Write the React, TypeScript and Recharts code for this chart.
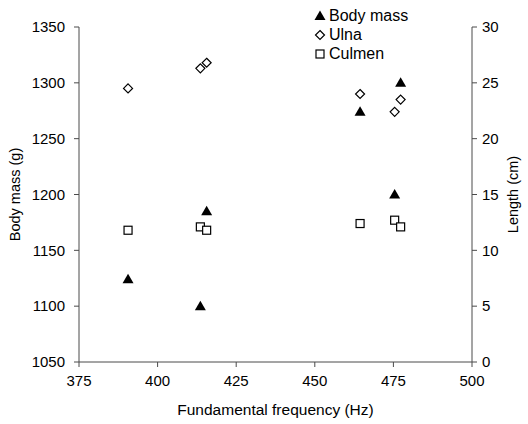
import { Legend, Scatter, ScatterChart, XAxis, YAxis } from 'recharts';

// frequency (Hz) per bird, shared by the three series
const freq = [390.6, 413.6, 415.6, 464.4, 475.4, 477.3];
const bodyMass = [1124, 1100, 1185, 1274, 1200, 1300];
const ulna = [24.5, 26.3, 26.8, 24.0, 22.4, 23.5];
const culmen = [11.8, 12.1, 11.8, 12.4, 12.7, 12.1];

const xTicks = [375, 400, 425, 450, 475, 500];
const massTicks = [1050, 1100, 1150, 1200, 1250, 1300, 1350];
const lengthTicks = [0, 5, 10, 15, 20, 25, 30];

const FONT = 'Liberation Sans, Arial, sans-serif';
const AXIS = '#4a4a4a';
const tick = { fill: '#000', fontSize: 15, fontFamily: FONT };

const massData = freq.map((f, i) => ({ f, v: bodyMass[i] }));
const ulnaData = freq.map((f, i) => ({ f, v: ulna[i] }));
const culmenData = freq.map((f, i) => ({ f, v: culmen[i] }));

type Pt = { cx?: number; cy?: number };

function Tri({ cx = 0, cy = 0 }: Pt) {
  return <path d={`M${cx},${cy - 5.5} L${cx + 5.5},${cy + 4} L${cx - 5.5},${cy + 4} Z`} fill="#000" />;
}

function Dia({ cx = 0, cy = 0 }: Pt) {
  return (
    <path
      d={`M${cx},${cy - 4.5} L${cx + 4.5},${cy} L${cx},${cy + 4.5} L${cx - 4.5},${cy} Z`}
      fill="#fff"
      stroke="#000"
      strokeWidth={1.2}
    />
  );
}

function Sq({ cx = 0, cy = 0 }: Pt) {
  return <rect x={cx - 4} y={cy - 4} width={8} height={8} fill="#fff" stroke="#000" strokeWidth={1.2} />;
}

const legendRows = [
  { name: 'Body mass', Icon: Tri },
  { name: 'Ulna', Icon: Dia },
  { name: 'Culmen', Icon: Sq },
];

function KeyBox() {
  return (
    <div style={{ fontFamily: FONT, fontSize: 16, color: '#000', lineHeight: '19px' }}>
      {legendRows.map(({ name, Icon }) => (
        <div key={name} style={{ display: 'flex', alignItems: 'center', height: 19 }}>
          <svg width={14} height={14} style={{ marginRight: 2 }}>
            <Icon cx={7} cy={7} />
          </svg>
          <span>{name}</span>
        </div>
      ))}
    </div>
  );
}

type VB = { viewBox?: { x: number; y: number; width: number; height: number } };

export default function App() {
  return (
    <div style={{ position: 'absolute', left: 0, top: 0, background: '#fff' }}>
      <ScatterChart width={528} height={424} margin={{ top: 27, right: 10, bottom: 12, left: 10 }}>
        <XAxis
          type="number"
          dataKey="f"
          domain={[375, 500]}
          ticks={xTicks}
          tick={tick}
          tickSize={5}
          tickMargin={8}
          stroke={AXIS}
          height={50}
          label={({ viewBox }: VB) =>
            viewBox ? (
              <text x={viewBox.x + viewBox.width / 2} y={411} textAnchor="middle" dominantBaseline="middle" fontSize={15.5} fontFamily={FONT} fill="#000">
                Fundamental frequency (Hz)
              </text>
            ) : null
          }
        />
        <YAxis
          yAxisId="mass"
          type="number"
          dataKey="v"
          domain={[1050, 1350]}
          ticks={massTicks}
          tick={tick}
          tickSize={5}
          tickMargin={9}
          stroke={AXIS}
          width={69}
          label={({ viewBox }: VB) =>
            viewBox ? (
              <text x={16} y={viewBox.y + viewBox.height / 2} transform={`rotate(-90 16 ${viewBox.y + viewBox.height / 2})`} textAnchor="middle" dominantBaseline="middle" fontSize={14.5} fontFamily={FONT} fill="#000">
                Body mass (g)
              </text>
            ) : null
          }
        />
        <YAxis
          yAxisId="len"
          orientation="right"
          type="number"
          dataKey="v"
          domain={[0, 30]}
          ticks={lengthTicks}
          tick={tick}
          tickSize={5}
          tickMargin={5}
          stroke={AXIS}
          width={46}
          label={({ viewBox }: VB) =>
            viewBox ? (
              <text x={514} y={viewBox.y + viewBox.height / 2} transform={`rotate(-90 514 ${viewBox.y + viewBox.height / 2})`} textAnchor="middle" dominantBaseline="middle" fontSize={14.5} fontFamily={FONT} fill="#000">
                Length (cm)
              </text>
            ) : null
          }
        />
        <Legend
          layout="vertical"
          align="center"
          verticalAlign="middle"
          content={<KeyBox />}
          wrapperStyle={{ left: 313, top: 6, width: 130 }}
        />
        <Scatter name="Body mass" data={massData} yAxisId="mass" shape={<Tri />} isAnimationActive={false} />
        <Scatter name="Ulna" data={ulnaData} yAxisId="len" shape={<Dia />} isAnimationActive={false} />
        <Scatter name="Culmen" data={culmenData} yAxisId="len" shape={<Sq />} isAnimationActive={false} />
      </ScatterChart>
    </div>
  );
}
